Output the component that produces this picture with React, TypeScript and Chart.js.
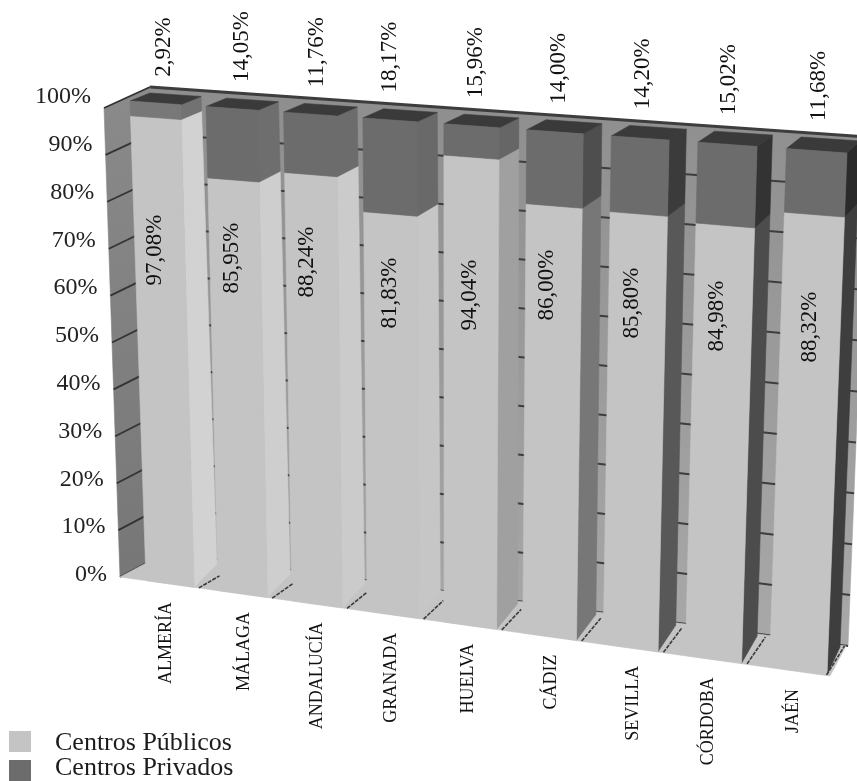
import React, { useEffect, useRef } from "react";
import { Chart, registerables } from "chart.js";

Chart.register(...registerables);

const provincias = ["ALMERÍA", "MÁLAGA", "ANDALUCÍA", "GRANADA", "HUELVA", "CÁDIZ", "SEVILLA", "CÓRDOBA", "JAÉN"];
const centrosPublicos = [97.08, 85.95, 88.24, 81.83, 94.04, 86.0, 85.8, 84.98, 88.32];
const centrosPrivados = [2.92, 14.05, 11.76, 18.17, 15.96, 14.0, 14.2, 15.02, 11.68];

// Side faces turn darker from left to right, as the light falls on the block.
const ladoPublico = ["#d2d2d2", "#cecece", "#cbcbcb", "#c6c6c6", "#a0a0a0", "#777777", "#585858", "#4c4c4c", "#3e3e3e"];
const ladoPrivado = ["#727272", "#6e6e6e", "#6c6c6c", "#696969", "#666666", "#4e4e4e", "#3b3b3b", "#333333", "#2a2a2a"];

// Centre of each percentage printed inside the light block.
const centrosEtiqueta: [number, number][] = [
  [155, 250], [232, 258], [307, 262], [390, 293], [470, 295],
  [547, 285], [632, 303], [717, 316], [810, 327],
];
// Small sideways nudges for the outer text rows.
const ajusteNombre = [-1, 5, 3, 1, 1, 5, 6, -2, -2];
const ajusteSuperior = [0, 2, -2, -8, -3, -3, -3, -2, 0];

const SERIF = '"Liberation Serif", "Times New Roman", serif';
const SLOTS = provincias.length;
const U0 = 0.165;
const U1 = SLOTS - U0;
const V_PERSPECTIVE = 1.058;

type Pt = [number, number];
type Plane = { bl: Pt; br: Pt; tl: Pt; tr: Pt; k: number };

// Perspective planes of the block fronts and backs, given at the outer block edges.
const frontPlane: Plane = { bl: [146, 580.6], br: [827, 675], tl: [130, 101], tr: [847, 153], k: 1.1 };
const backPlane: Plane = { bl: [168.6, 557.6], br: [840, 647], tl: [150, 93], tr: [860, 141], k: 1.08 };

const lerp = (a: number, b: number, t: number) => a + (b - a) * t;
const lerpPt = (a: Pt, b: Pt, t: number): Pt => [lerp(a[0], b[0], t), lerp(a[1], b[1], t)];

function onPlane(p: Plane, u: number, v: number): Pt {
  const t = (u - U0) / (U1 - U0);
  const s = t / (t + p.k * (1 - t));
  const h = v / (v + V_PERSPECTIVE * (1 - v));
  return lerpPt(lerpPt(p.bl, p.br, s), lerpPt(p.tl, p.tr, s), h);
}

function fillPoly(ctx: CanvasRenderingContext2D, pts: Pt[], fill: string | CanvasGradient) {
  ctx.beginPath();
  pts.forEach((q, i) => (i ? ctx.lineTo(q[0], q[1]) : ctx.moveTo(q[0], q[1])));
  ctx.closePath();
  ctx.fillStyle = fill;
  ctx.fill();
  ctx.strokeStyle = fill;
  ctx.lineWidth = 0.6;
  ctx.stroke();
}

function strokeLine(ctx: CanvasRenderingContext2D, a: Pt, b: Pt, color: string, width: number, dash: number[] = []) {
  ctx.beginPath();
  ctx.moveTo(a[0], a[1]);
  ctx.lineTo(b[0], b[1]);
  ctx.strokeStyle = color;
  ctx.lineWidth = width;
  ctx.setLineDash(dash);
  ctx.stroke();
  ctx.setLineDash([]);
}

function verticalText(ctx: CanvasRenderingContext2D, text: string, x: number, y: number, align: CanvasTextAlign, size: number) {
  ctx.save();
  ctx.translate(x, y);
  ctx.rotate(-Math.PI / 2);
  ctx.font = `${size}px ${SERIF}`;
  ctx.fillStyle = "#111111";
  ctx.textAlign = align;
  ctx.textBaseline = "middle";
  ctx.fillText(text, 0, 0);
  ctx.restore();
}

const fmt = (n: number) => n.toFixed(2).replace(".", ",") + "%";

// Draws the stacked columns as solid blocks, taking every height from the bar elements.
const blocks3d = {
  id: "blocks3d",
  beforeDatasetsDraw(chart: any) {
    const { ctx, chartArea: area, scales } = chart;
    const yScale = scales.y;
    const toV = (px: number) => Math.max(0, Math.min(1, (area.bottom - px) / (area.bottom - area.top)));
    const toU = (px: number) => ((px - area.left) / (area.right - area.left)) * SLOTS;

    ctx.save();

    // Back wall
    const wallBottom: [Pt, Pt] = [[165, 553], [848, 646]];
    const wallTop: [Pt, Pt] = [[150, 87], [868, 137]];
    const wallFill = ctx.createLinearGradient(0, 90, 0, 640);
    wallFill.addColorStop(0, "#8e8e8e");
    wallFill.addColorStop(1, "#a8a8a8");
    fillPoly(ctx, [wallBottom[0], wallBottom[1], wallTop[1], wallTop[0]], wallFill);

    const ticks: number[] = yScale.ticks.map((t: any) => t.value);
    ticks.forEach((val) => {
      const v = toV(yScale.getPixelForValue(val));
      const w = val === 100 ? 3 : 2;
      strokeLine(ctx, lerpPt(wallBottom[0], wallTop[0], v), lerpPt(wallBottom[1], wallTop[1], v), "#3d3d3d", w);
    });

    // Side wall with its value ticks and value labels
    const sideFront: [Pt, Pt] = [[120, 577], [104, 108]];
    const sideBack: [Pt, Pt] = [[165, 553], [150, 87]];
    const sideFill = ctx.createLinearGradient(0, 90, 0, 570);
    sideFill.addColorStop(0, "#8a8a8a");
    sideFill.addColorStop(1, "#777777");
    fillPoly(ctx, [sideFront[0], sideBack[0], sideBack[1], sideFront[1]], sideFill);
    ticks.forEach((val) => {
      const py = yScale.getPixelForValue(val);
      const v = toV(py);
      const foot = lerpPt(sideFront[0], sideFront[1], v);
      strokeLine(ctx, foot, lerpPt(sideBack[0], sideBack[1], v), "#333333", 1.8);
      ctx.font = `24px ${SERIF}`;
      ctx.fillStyle = "#222222";
      ctx.textAlign = "right";
      ctx.textBaseline = "middle";
      ctx.fillText(`${val}%`, foot[0] - 13, py);
    });

    // Floor
    fillPoly(ctx, [[120, 577], [830, 676], [846, 646], [165, 553]], "#c4c4c4");

    // Blocks, left to right so each front covers its neighbour's side
    const pub = chart.getDatasetMeta(0).data;
    const pri = chart.getDatasetMeta(1).data;
    pub.forEach((bar: any, i: number) => {
      const left = toU(bar.x - bar.width / 2);
      const right = toU(bar.x + bar.width / 2);
      const v0 = toV(bar.base);
      const v1 = toV(bar.y);
      const v2 = toV(pri[i].y);
      const c1 = chart.data.datasets[0].backgroundColor as string;
      const c2 = chart.data.datasets[1].backgroundColor as string;

      fillPoly(ctx, [onPlane(frontPlane, right, v0), onPlane(backPlane, right, v0), onPlane(backPlane, right, v1), onPlane(frontPlane, right, v1)], ladoPublico[i]);
      fillPoly(ctx, [onPlane(frontPlane, right, v1), onPlane(backPlane, right, v1), onPlane(backPlane, right, v2), onPlane(frontPlane, right, v2)], ladoPrivado[i]);
      fillPoly(ctx, [onPlane(frontPlane, left, v2), onPlane(frontPlane, right, v2), onPlane(backPlane, right, v2), onPlane(backPlane, left, v2)], "#3a3a3a");
      fillPoly(ctx, [onPlane(frontPlane, left, v0), onPlane(frontPlane, right, v0), onPlane(frontPlane, right, v1), onPlane(frontPlane, left, v1)], c1);
      fillPoly(ctx, [onPlane(frontPlane, left, v1), onPlane(frontPlane, right, v1), onPlane(frontPlane, right, v2), onPlane(frontPlane, left, v2)], i === 0 ? "#787878" : c2);
    });

    // Floor ticks between categories
    for (let k = 1; k <= SLOTS; k++) {
      const u = k === SLOTS ? k - 0.17 : k - 0.1;
      const a = onPlane(frontPlane, u, 0);
      const f = k / SLOTS;
      strokeLine(ctx, a, [a[0] + lerp(21, 18, f), a[1] + lerp(-10, -29, f)], "#3a3a3a", 1.6, [4, 1.2]);
    }

    // Category names and percentages
    pub.forEach((bar: any, i: number) => {
      const mid = toU(bar.x);
      const foot = onPlane(frontPlane, mid, 0);
      verticalText(ctx, chart.data.labels[i], foot[0] - 3 + ajusteNombre[i], foot[1] + 18, "right", 18);
      const crown = onPlane(backPlane, mid, 1);
      verticalText(ctx, fmt(centrosPrivados[i]), crown[0] - 12 + ajusteSuperior[i], crown[1] - 18, "left", 23);
      verticalText(ctx, fmt(centrosPublicos[i]), centrosEtiqueta[i][0], centrosEtiqueta[i][1], "center", 23);
    });

    // Legend
    chart.data.datasets.forEach((ds: any, i: number) => {
      const y = 731 + i * 29;
      ctx.fillStyle = ds.backgroundColor;
      ctx.fillRect(9, y, 22, 21);
      ctx.font = `26px ${SERIF}`;
      ctx.fillStyle = "#1c1c1c";
      ctx.textAlign = "left";
      ctx.textBaseline = "middle";
      ctx.fillText(ds.label, 55, 743 + i * 25);
    });

    ctx.restore();
    return false;
  },
};

export default function App() {
  const ref = useRef<HTMLCanvasElement>(null);

  useEffect(() => {
    if (!ref.current) return;
    const chart = new Chart(ref.current, {
      type: "bar",
      data: {
        labels: provincias,
        datasets: [
          { label: "Centros Públicos", data: centrosPublicos, backgroundColor: "#c4c4c4", stack: "s" },
          { label: "Centros Privados", data: centrosPrivados, backgroundColor: "#6c6c6c", stack: "s" },
        ],
      },
      options: {
        animation: false,
        responsive: false,
        layout: { padding: { left: 100, top: 97, right: 0, bottom: 206 } },
        datasets: { bar: { barPercentage: 0.67, categoryPercentage: 1 } },
        plugins: { legend: { display: false }, tooltip: { enabled: false } },
        scales: {
          x: { stacked: true, display: false },
          y: {
            stacked: true,
            min: 0,
            max: 100,
            border: { display: false },
            grid: { display: false },
            ticks: { stepSize: 10, display: false },
          },
        },
      },
      plugins: [blocks3d],
    } as any);
    return () => chart.destroy();
  }, []);

  return (
    <div style={{ position: "absolute", left: 0, top: 0, width: 857, height: 781, background: "#ffffff" }}>
      <canvas ref={ref} width={857} height={781} style={{ display: "block" }} />
    </div>
  );
}
